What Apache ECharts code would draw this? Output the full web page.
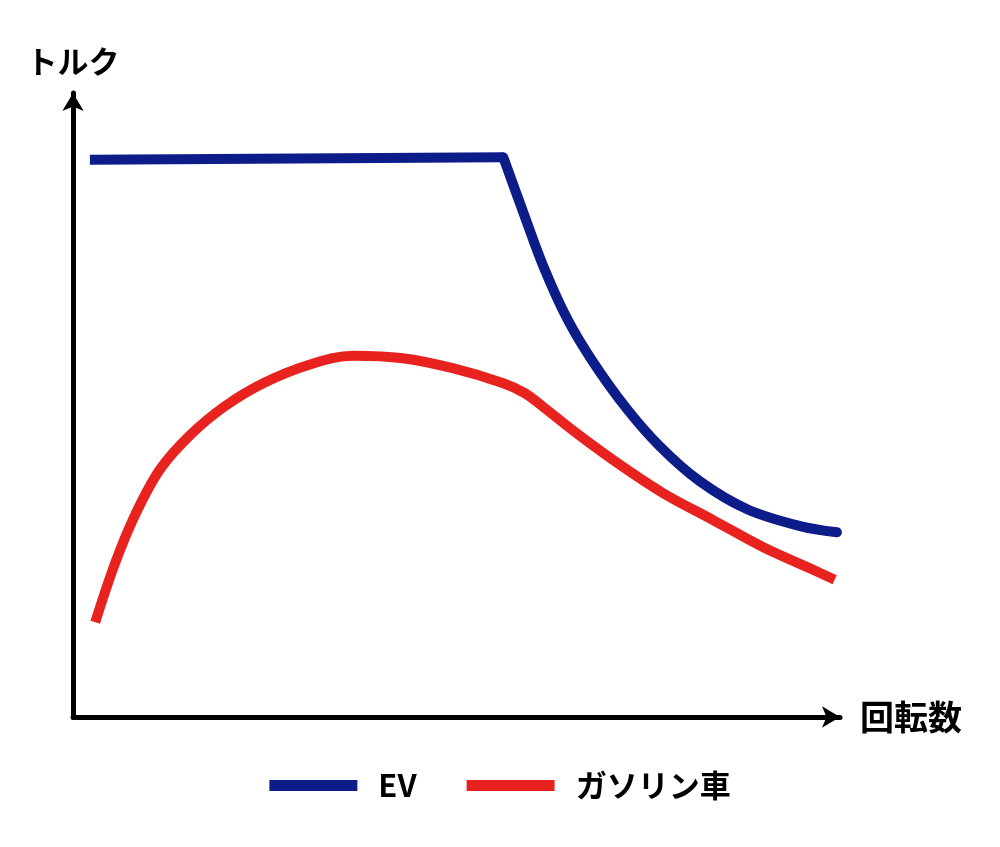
<!DOCTYPE html>
<html>
<head>
<meta charset="utf-8">
<script src="https://cdn.jsdelivr.net/npm/echarts@6/dist/echarts.min.js"></script>
<style>
  html, body { margin: 0; padding: 0; background: #fff; }
  #container { width: 1000px; height: 847px; }
</style>
</head>
<body>
<div id="container"></div>
<script>
// 回転数 (0-100) / トルク (0-100)
var evFlat = [[2.2, 89.3], [56.1, 89.7]];
var evDrop = [
    [56.1, 89.7], [58.7, 80.9], [61.3, 72.3], [64.4, 63.9], [67.8, 56.9],
    [72.2, 49.4], [76.5, 43.4], [81.7, 37.8], [87.9, 33.3], [94.8, 30.6],
    [99.6, 29.6]
];
var gasoline = [
    [2.9, 15.2], [5.5, 24.7], [8.1, 32.4], [11.3, 39.6], [15.3, 45.2],
    [19.8, 49.8], [25.0, 53.6], [30.9, 56.5], [36.5, 57.9], [43.0, 57.5],
    [49.5, 55.9], [56.1, 53.5], [58.9, 51.9], [61.5, 49.5], [65.4, 45.7],
    [70.4, 41.2], [76.9, 35.9], [83.4, 31.6], [90.0, 27.2], [96.5, 23.6],
    [99.3, 22.0]
];
var seriesNames = ["EV", "ガソリン車"];
var colors = ["#0c1d8a", "#e8231f"];

var font = "'Noto Sans CJK JP', sans-serif";

var myChart = echarts.init(document.getElementById("container"));

function axisOpt(name, pos) {
    return {
        type: "value",
        min: 0,
        max: 100,
        name: name,
        nameLocation: "end",
        nameGap: pos == "x" ? 20 : 16,
        nameTextStyle: {
            color: "#000",
            fontSize: pos == "x" ? 34 : 31,
            fontWeight: "bold",
            fontFamily: font
        },
        axisLine: {
            show: true,
            symbol: ["none", "arrow"],
            symbolSize: [16, 18],
            lineStyle: { color: "#000", width: 5 }
        },
        axisTick: { show: false },
        axisLabel: { show: false },
        splitLine: { show: false }
    };
}

var opt = {
    animation: false,
    backgroundColor: "#fff",
    grid: { left: 73, right: 160, top: 93, bottom: 130 },
    legend: {
        top: 765,
        left: "center",
        icon: "rect",
        itemWidth: 88,
        itemHeight: 11,
        itemGap: 50,
        data: seriesNames,
        textStyle: {
            color: "#000",
            fontSize: 31,
            fontWeight: "bold",
            fontFamily: font,
            padding: [0, 0, 0, 16]
        }
    },
    xAxis: axisOpt("回転数", "x"),
    yAxis: axisOpt("トルク", "y"),
    series: [
        {
            name: seriesNames[0],
            type: "line",
            data: evFlat,
            showSymbol: false,
            itemStyle: { color: colors[0] },
            lineStyle: { color: colors[0], width: 10 }
        },
        {
            // 折れ点から先は曲線
            name: seriesNames[0],
            type: "line",
            data: evDrop,
            smooth: 0.35,
            showSymbol: false,
            itemStyle: { color: colors[0] },
            lineStyle: { color: colors[0], width: 10, cap: "round" }
        },
        {
            name: seriesNames[1],
            type: "line",
            data: gasoline,
            smooth: 0.35,
            showSymbol: false,
            itemStyle: { color: colors[1] },
            lineStyle: { color: colors[1], width: 10 }
        }
    ]
};
myChart.setOption(opt);
</script>
</body>
</html>
